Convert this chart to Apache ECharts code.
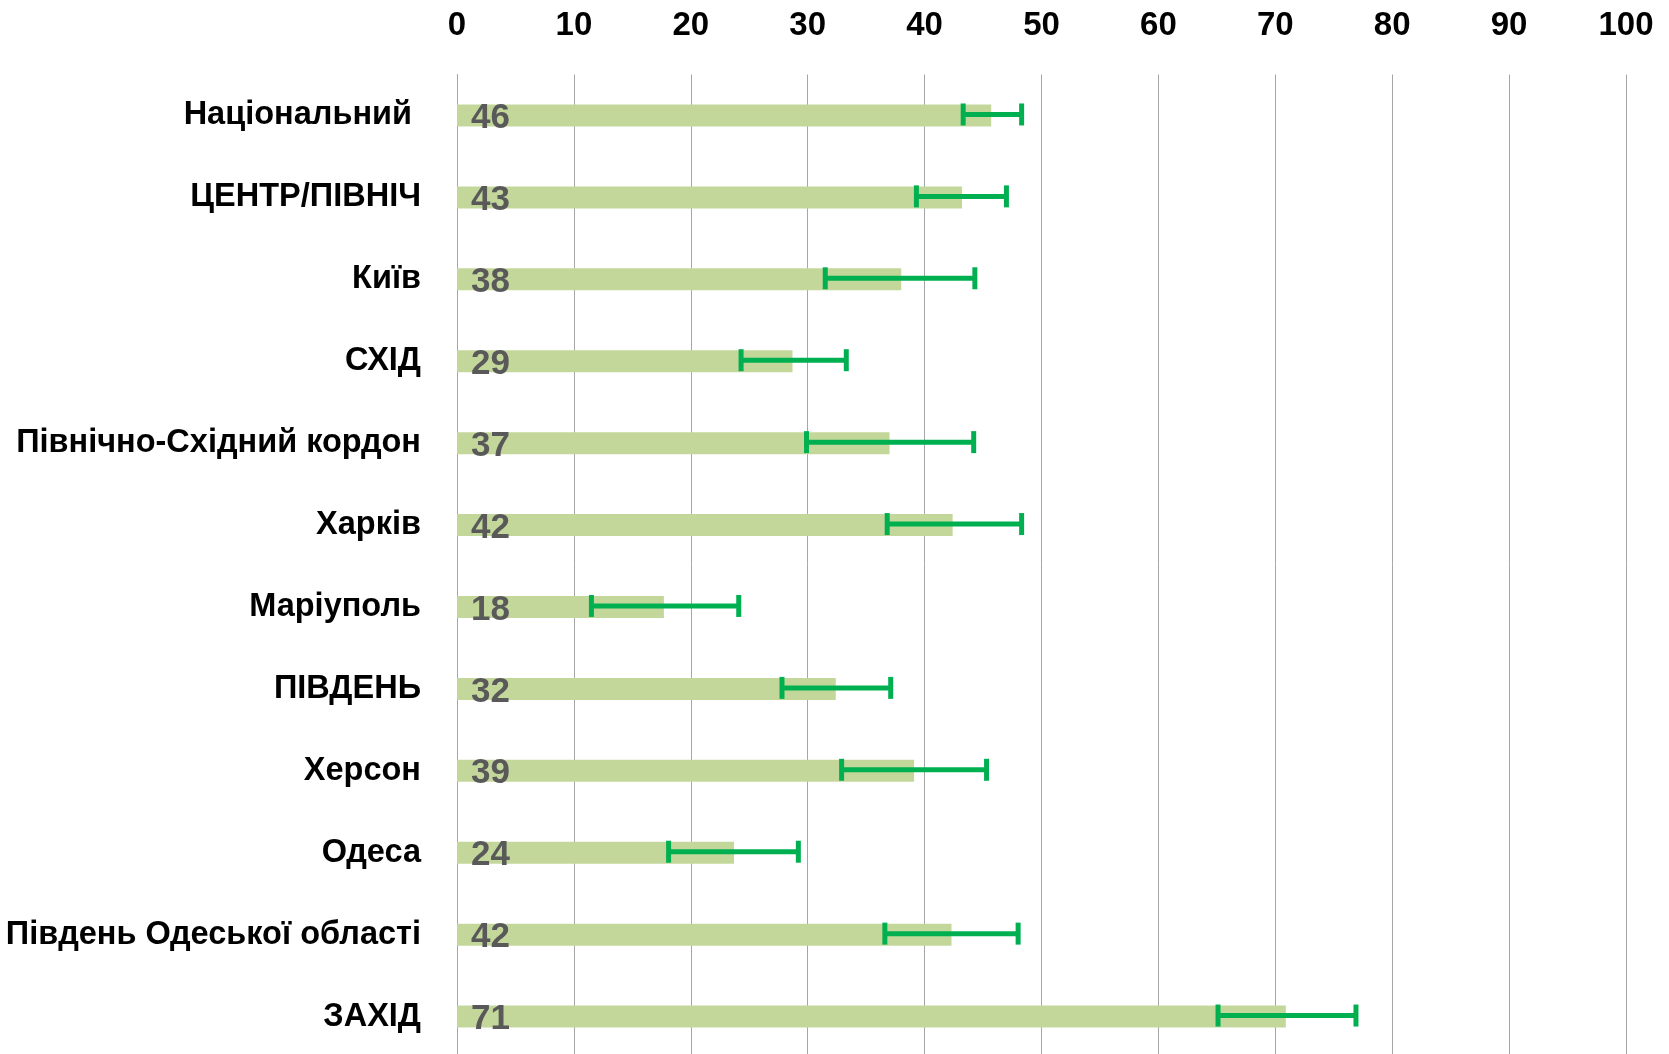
<!DOCTYPE html>
<html>
<head>
<meta charset="utf-8">
<script src="https://cdn.jsdelivr.net/npm/echarts@6/dist/echarts.min.js"></script>
<style>
html,body{margin:0;padding:0;background:#fff;}
#chart{width:1669px;height:1054px;}
</style>
</head>
<body>
<div id="chart"></div>
<script>
const categories = ['Національний ', 'ЦЕНТР/ПІВНІЧ', 'Київ', 'СХІД', 'Північно-Східний кордон', 'Харків', 'Маріуполь', 'ПІВДЕНЬ', 'Херсон', 'Одеса', 'Південь Одеської області', 'ЗАХІД'];
const values = [45.7, 43.2, 38.0, 28.7, 37.0, 42.4, 17.7, 32.4, 39.1, 23.7, 42.3, 70.9];
const errLow = [43.3, 39.3, 31.5, 24.3, 29.9, 36.8, 11.5, 27.8, 32.9, 18.1, 36.6, 65.1];
const errHigh = [48.3, 47.0, 44.3, 33.3, 44.2, 48.3, 24.1, 37.1, 45.3, 29.2, 48.0, 76.9];
const xTicks = [0, 10, 20, 30, 40, 50, 60, 70, 80, 90, 100];

const chart = echarts.init(document.getElementById('chart'), null, {renderer: 'canvas'});
const FONT = '"Liberation Sans", Arial, sans-serif';

chart.setOption({
  animation: false,
  backgroundColor: '#ffffff',
  grid: {left: 457, right: 43, top: 74.5, height: 983, containLabel: false, outerBoundsMode: 'none'},
  xAxis: {
    type: 'value', position: 'top',
    min: xTicks[0], max: xTicks[xTicks.length - 1], interval: xTicks[1] - xTicks[0],
    axisLine: {show: false}, axisTick: {show: false},
    axisLabel: {margin: 32, color: '#000', fontFamily: FONT, fontWeight: 'bold', fontSize: 33},
    splitLine: {show: true, lineStyle: {color: '#A6A6A6', width: 1}}
  },
  yAxis: {
    type: 'category', inverse: true, data: categories,
    axisLine: {show: true, lineStyle: {color: '#A6A6A6', width: 1}},
    axisTick: {show: false},
    axisLabel: {margin: 36, color: '#000', fontFamily: FONT, fontWeight: 'bold', fontSize: 32.5}
  },
  series: [
    {
      type: 'bar', data: values, barWidth: 22,
      itemStyle: {color: '#C4D79B'},
      label: {
        show: true, position: 'insideLeft', offset: [9, 3],
        color: '#595959', fontFamily: FONT, fontWeight: 'bold', fontSize: 35,
        formatter: p => Math.round(p.value)
      },
      z: 2
    },
    {
      type: 'custom',
      data: categories.map((c, i) => [errLow[i], errHigh[i], i]),
      encode: {x: [0, 1], y: 2},
      renderItem: function (params, api) {
        const lo = api.coord([api.value(0), api.value(2)]);
        const hi = api.coord([api.value(1), api.value(2)]);
        const y = lo[1] - 1;
        const h = 11;
        const col = '#00B050';
        return {
          type: 'group',
          children: [
            {type: 'line', shape: {x1: lo[0], y1: y, x2: hi[0], y2: y}, style: {stroke: col, lineWidth: 5}},
            {type: 'line', shape: {x1: lo[0], y1: y - h, x2: lo[0], y2: y + h}, style: {stroke: col, lineWidth: 5}},
            {type: 'line', shape: {x1: hi[0], y1: y - h, x2: hi[0], y2: y + h}, style: {stroke: col, lineWidth: 5}}
          ]
        };
      },
      z: 5
    }
  ]
});
</script>
</body>
</html>
